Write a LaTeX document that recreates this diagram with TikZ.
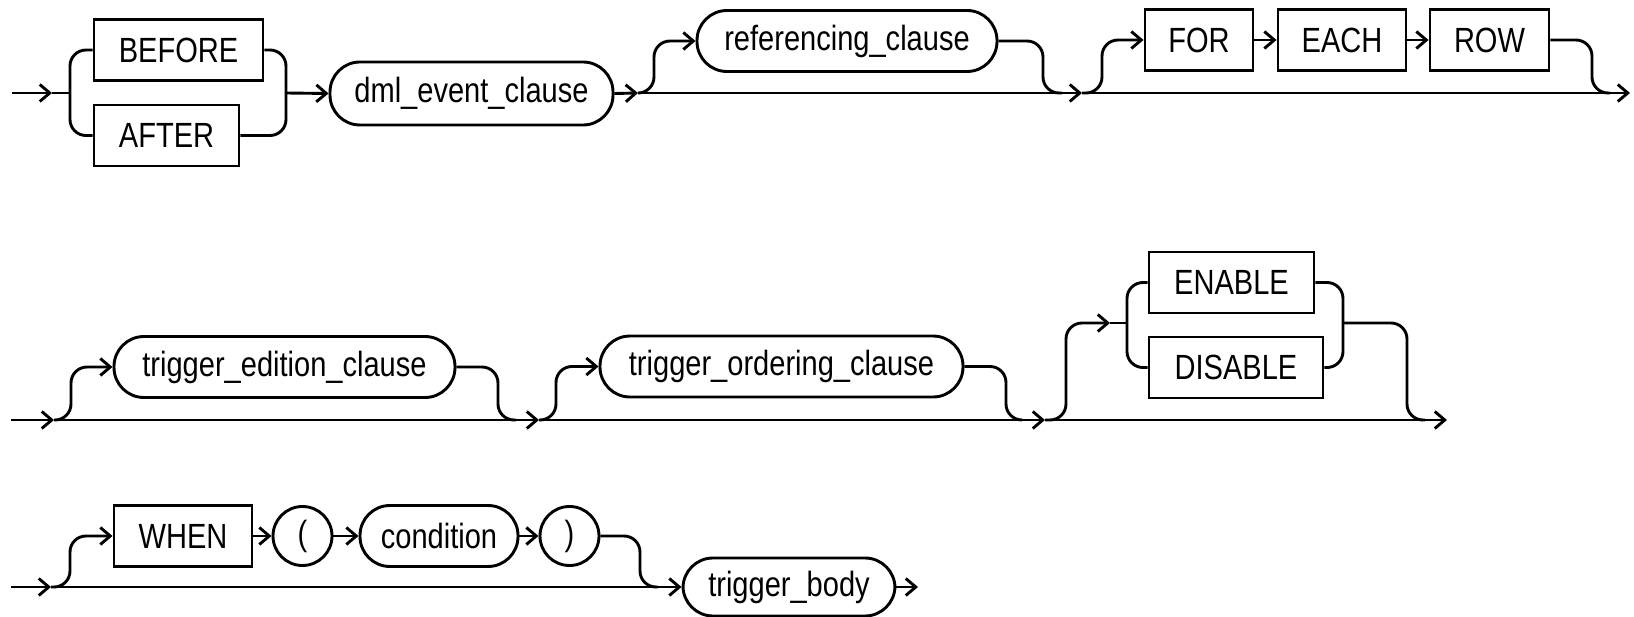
\documentclass[tikz,border=0pt]{standalone}
\usepackage{fontspec}
\setmainfont{Liberation Sans}[FakeStretch=0.83]
\usetikzlibrary{arrows.meta}

\begin{document}
\begin{tikzpicture}[x=1pt, y=-1pt, line width=2.9pt,
  every node/.style={font=\fontsize{35}{38}\selectfont, inner sep=0pt, line width=2.9pt},
  kw/.style={draw, rectangle, minimum height=61pt},
  nt/.style={draw, rectangle, rounded corners=30pt, minimum height=61pt},
  pn/.style={draw, circle, minimum size=59pt},
  arr/.style={-{Straight Barb[length=10pt,width=17pt]}},
  rc/.style={rounded corners=16pt},
]
\fill[white] (0,0) rectangle (1634,617);
\useasboundingbox (0,0) rectangle (1634,617);

% ---------- first line ----------
\node[kw, minimum width=169pt] (before) at (178.5,50) {BEFORE};
\node[kw, minimum width=145pt] (after)  at (166.5,135.5) {AFTER};
\node[nt, minimum width=283pt, minimum height=63pt] (dml) at (471.5,93.5) {dml\_event\_clause};
\node[nt, minimum width=300pt] (ref) at (847,41) {referencing\_clause};
\node[kw, minimum width=108pt] (for)  at (1199,40) {FOR};
\node[kw, minimum width=128pt] (each) at (1342,40) {EACH};
\node[kw, minimum width=119pt] (row)  at (1489.5,40) {ROW};

\coordinate (s1) at (12,93);
\coordinate (t1) at (52,93);
\coordinate (b1) at (70,93);
\coordinate (m1) at (286,93);
\coordinate (j1) at (638,93);
\coordinate (j2) at (1082,93);
\coordinate (e1) at (1630,93);

\draw[arr] (s1) -- (t1);
\draw (t1) -- (b1);
\draw[rc] (before.west) -- (70,50) -- (70,135.5) -- (after.west);
\draw[rc] (before.east) -- (286,50) -- (286,135.5) -- (after.east);
\draw[arr] (m1) -- (dml.west);
\draw[arr] (dml.east) -- (j1);
\draw[arr] (j1) -- (j2);
\draw[arr] (j2) -- (e1);
\draw[arr, rc] (j1) -- (654,93) -- (654,41) -- (ref.west);
\draw[rc] (ref.east) -- (1043,41) -- (1043,93) -- (1062,93);
\draw[arr, rc] (j2) -- (1102,93) -- (1102,40) -- (for.west);
\draw[arr] (for.east) -- (each.west);
\draw[arr] (each.east) -- (row.west);
\draw[rc] (row.east) -- (1592,40) -- (1592,93) -- (1610,93);

% ---------- second line ----------
\node[nt, minimum width=341pt] (ted) at (284.5,367) {trigger\_edition\_clause};
\node[nt, minimum width=363pt] (tor) at (781.5,366.5) {trigger\_ordering\_clause};
\node[kw, minimum width=165pt] (enable)  at (1231.5,282.5) {ENABLE};
\node[kw, minimum width=174pt] (disable) at (1236,367.5) {DISABLE};

\coordinate (s2) at (11,420);
\coordinate (k1) at (54,420);
\coordinate (k2) at (539,420);
\coordinate (k3) at (1045,420);
\coordinate (e2) at (1447,420);
\coordinate (c1) at (1110,323);
\coordinate (c2) at (1127,323);
\coordinate (c3) at (1343,323);

\draw[arr] (s2) -- (k1);
\draw[arr] (k1) -- (k2);
\draw[arr] (k2) -- (k3);
\draw[arr] (k3) -- (e2);
\draw[arr, rc] (k1) -- (71,420) -- (71,367) -- (ted.west);
\draw[rc] (ted.east) -- (498,367) -- (498,420) -- (516,420);
\draw[arr, rc] (k2) -- (556,420) -- (556,366.5) -- (tor.west);
\draw[rc] (tor.east) -- (1006,366.5) -- (1006,420) -- (1022,420);
\draw[arr, rc] (k3) -- (1066,420) -- (1066,323) -- (c1);
\draw (c1) -- (c2);
\draw[rc] (enable.west) -- (1127,282.5) -- (1127,367.5) -- (disable.west);
\draw[rc] (enable.east) -- (1343,282.5) -- (1343,367.5) -- (disable.east);
\draw[rc] (c3) -- (1407,323) -- (1407,420) -- (1425,420);

% ---------- third line ----------
\node[kw, minimum width=138pt] (when) at (183,536) {WHEN};
\node[pn] (lp) at (302.5,536) {(};
\node[nt, minimum width=158pt] (cond) at (439,536) {condition};
\node[pn] (rp) at (569.5,536) {)};
\node[nt, minimum width=212pt, minimum height=58pt] (body) at (789,587) {trigger\_body};

\coordinate (s3) at (11,587);
\coordinate (n1) at (51,587);
\coordinate (e3) at (918,587);

\draw[arr] (s3) -- (n1);
\draw[arr] (n1) -- (body.west);
\draw[arr, rc] (n1) -- (70,587) -- (70,536) -- (when.west);
\draw[arr] (when.east) -- (lp.west);
\draw[arr] (lp.east) -- (cond.west);
\draw[arr] (cond.east) -- (rp.west);
\draw[rc] (rp.east) -- (640,536) -- (640,587) -- (658,587);
\draw[arr] (body.east) -- (e3);
\end{tikzpicture}
\end{document}
